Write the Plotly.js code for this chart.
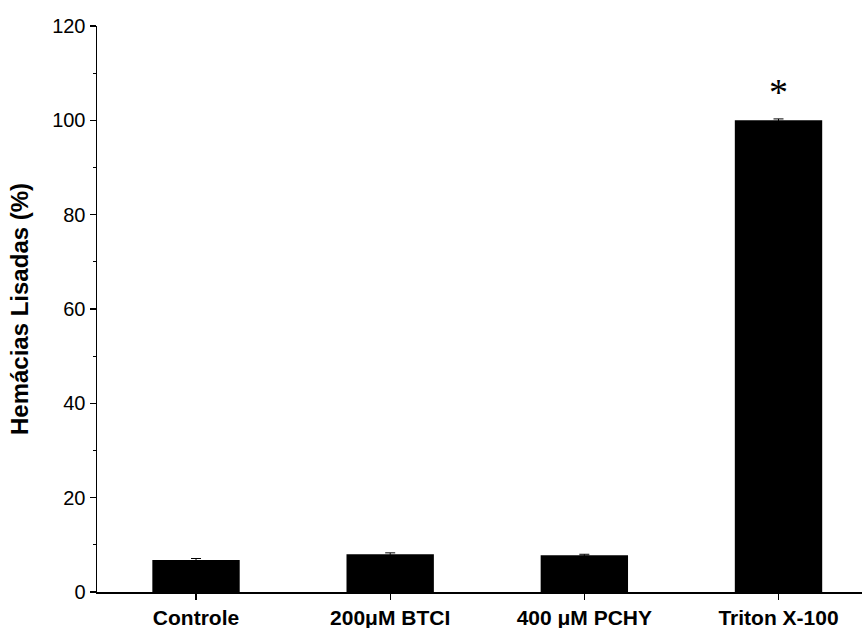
<!DOCTYPE html>
<html>
<head>
<meta charset="utf-8">
<script src="https://cdn.plot.ly/plotly-3.0.1.min.js"></script>
<style>html,body{margin:0;padding:0;background:#fff;}#chart{width:863px;height:628px;}</style>
</head>
<body>
<div id="chart"></div>
<script>
var categories = ["Controle", "200\u03bcM BTCI", "400 \u03bcM PCHY", "Triton X-100"];
var values = [6.8, 8.0, 7.8, 100.0];
var errors = [0.3, 0.3, 0.2, 0.3];
var yTicks = [0, 20, 40, 60, 80, 100, 120];
var significance = ["", "", "", "*"];

var trace = {
  type: "bar",
  x: categories,
  y: values,
  width: 0.45,
  marker: {color: "#000000", line: {width: 0}},
  error_y: {type: "data", array: errors, visible: true, color: "#000000", thickness: 1, width: 5},
  hoverinfo: "skip"
};

var annotations = [];
for (var i = 0; i < categories.length; i++) {
  if (significance[i]) {
    annotations.push({
      x: categories[i], y: values[i] + errors[i], xref: "x", yref: "y",
      text: significance[i], showarrow: false, yanchor: "bottom", yshift: 4,
      font: {family: "Liberation Serif, serif", size: 38, color: "#000"}
    });
  }
}

var layout = {
  width: 863, height: 628,
  margin: {l: 97, r: 1, t: 26, b: 36},
  paper_bgcolor: "#fff", plot_bgcolor: "#fff",
  showlegend: false,
  font: {family: "Liberation Sans, Arial, sans-serif", color: "#000"},
  xaxis: {
    type: "category",
    range: [-0.51, 3.43],
    showline: true, linecolor: "#000", linewidth: 1.5,
    ticks: "outside", ticklen: 6, tickwidth: 1.2, tickcolor: "#000",
    showgrid: false, zeroline: false,
    tickfont: {family: "Liberation Sans, Arial, sans-serif", size: 21, color: "#000", weight: "bold"}
  },
  yaxis: {
    range: [0, 120],
    tickvals: yTicks,
    showline: true, linecolor: "#000", linewidth: 1.5,
    ticks: "outside", ticklen: 6, tickwidth: 1.2, tickcolor: "#000",
    minor: {dtick: 10, ticks: "outside", ticklen: 3, tickwidth: 1.2, tickcolor: "#000", showgrid: false},
    showgrid: false, zeroline: false,
    tickfont: {family: "Liberation Sans, Arial, sans-serif", size: 20, color: "#000"},
    title: {text: "<b>Hemácias Lisadas (%)</b>", standoff: 16,
            font: {family: "Liberation Sans, Arial, sans-serif", size: 24, color: "#000"}}
  },
  annotations: annotations
};

Plotly.newPlot("chart", [trace], layout, {displayModeBar: false, staticPlot: true});
</script>
</body>
</html>
